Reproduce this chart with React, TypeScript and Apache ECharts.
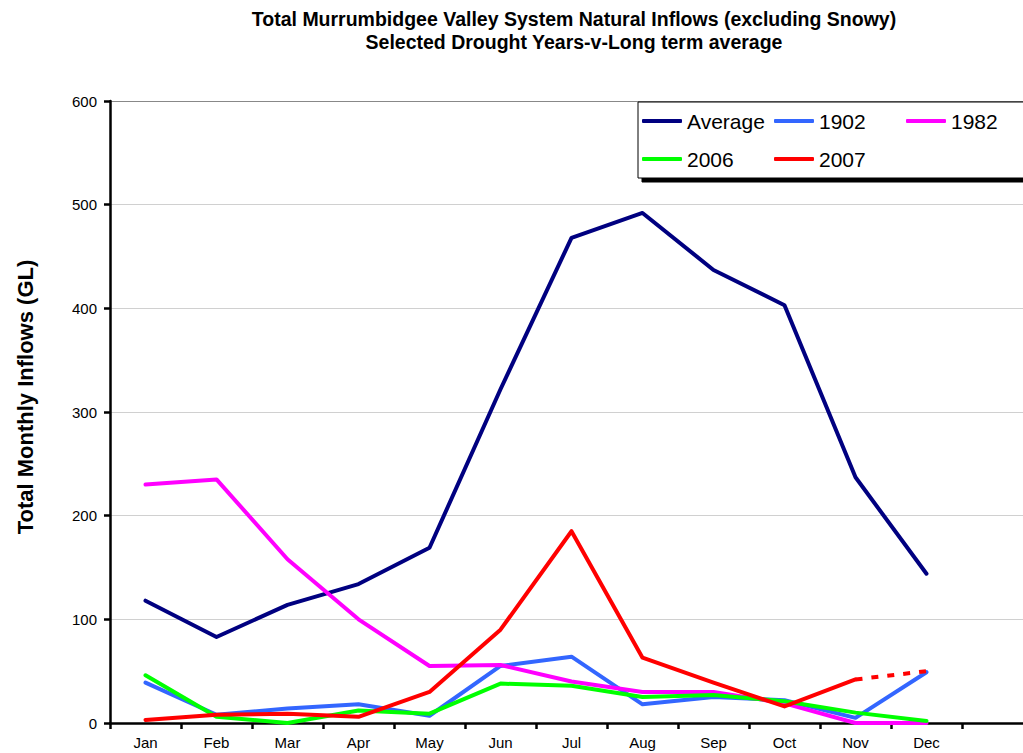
import React, { useEffect, useRef } from "react";
import * as echarts from "echarts";

const months = ["Jan", "Feb", "Mar", "Apr", "May", "Jun", "Jul", "Aug", "Sep", "Oct", "Nov", "Dec", ""];
const average = [118, 83, 114, 134, 169, 322, 468, 492, 437, 403, 237, 144];
const y1902 = [39, 8, 14, 18, 7, 55, 64, 18, 25, 22, 5, 49];
const y1982 = [230, 235, 158, 100, 55, 56, 40, 30, 30, 19, 0, 0];
const y2006 = [46, 6, 0, 12, 9, 38, 36, 25, 27, 21, 10, 2];
const y2007 = [3, 8, 9, 6, 30, 90, 185, 63, 39, 16, 42];
const y2007Dashed = [null, null, null, null, null, null, null, null, null, null, 42, 50];
const yTicks = { min: 0, max: 600, interval: 100 };

const FONT = "Arial, 'Liberation Sans', sans-serif";

export default function App() {
  const ref = useRef<HTMLDivElement>(null);
  useEffect(() => {
    if (!ref.current) return;
    const chart = echarts.init(ref.current, undefined, { renderer: "svg" });
    const line = (name: string, data: any[], color: string, extra: any = {}) => ({
      name,
      type: "line",
      data,
      symbol: "none",
      lineStyle: { color, width: 4, cap: "round", join: "round", ...(extra.lineStyle || {}) },
      itemStyle: { color },
      z: 2,
    });
    chart.setOption({
      animation: false,
      backgroundColor: "#fff",
      textStyle: { fontFamily: FONT },
      graphic: [
        {
          type: "text",
          x: 574,
          y: 7,
          style: {
            text: "Total Murrumbidgee Valley System Natural Inflows (excluding Snowy)\nSelected Drought Years-v-Long term average",
            align: "center",
            textAlign: "center",
            font: `bold 19.5px ${FONT}`,
            lineHeight: 23,
            fill: "#000",
          },
        },
      ],
      legend: {
        left: 638,
        top: 102,
        width: 420,
        padding: [2, 4],
        itemGap: 4,
        itemWidth: 40,
        itemHeight: 4,
        icon: "roundRect",
        backgroundColor: "#fff",
        borderColor: "#000",
        borderWidth: 1,
        shadowColor: "#000",
        shadowOffsetX: 4,
        shadowOffsetY: 4,
        shadowBlur: 0,
        data: ["Average", "1902", "1982", "2006", "2007"],
        textStyle: { fontSize: 21, lineHeight: 34, width: 83, color: "#000", fontFamily: FONT },
      },
      grid: { left: 110, top: 101, bottom: 30, width: 923 },
      xAxis: {
        type: "category",
        data: months,
        boundaryGap: true,
        axisLine: { lineStyle: { color: "#000", width: 2.5 } },
        axisTick: { show: true, alignWithLabel: false, length: 6, lineStyle: { color: "#000", width: 2.5 } },
        axisLabel: { color: "#000", fontSize: 15, margin: 12, fontFamily: FONT, interval: 0 },
        splitLine: { show: false },
      },
      yAxis: {
        type: "value",
        min: yTicks.min,
        max: yTicks.max,
        interval: yTicks.interval,
        name: "Total Monthly Inflows (GL)",
        nameLocation: "middle",
        nameGap: 74,
        nameRotate: 90,
        nameTextStyle: { fontSize: 22, fontWeight: "bold", color: "#000", fontFamily: FONT, padding: [0, 0, 0, 30] },
        axisLine: { show: true, lineStyle: { color: "#000", width: 2.5 } },
        axisTick: { show: true, length: 6, lineStyle: { color: "#000", width: 2.5 } },
        axisLabel: { color: "#000", fontSize: 15, margin: 13, fontFamily: FONT },
        splitLine: {
          show: true,
          lineStyle: { color: ["#d0d0d0", "#d0d0d0", "#d0d0d0", "#d0d0d0", "#d0d0d0", "#d0d0d0", "#888"], width: 1 },
        },
      },
      series: [
        line("Average", average, "#000080"),
        line("1902", y1902, "#3366ff"),
        line("1982", y1982, "#ff00ff"),
        line("2006", y2006, "#00ff00"),
        line("2007", y2007, "#ff0000"),
        line("2007", y2007Dashed, "#ff0000", { lineStyle: { type: [7, 9], dashOffset: 0, cap: "butt" } }),
      ],
    });
    return () => chart.dispose();
  }, []);
  return (
    <div style={{ position: "fixed", left: 0, top: 0, width: 1023, height: 753, overflow: "hidden" }}>
      <div ref={ref} style={{ width: 1045, height: 753 }} />
    </div>
  );
}
